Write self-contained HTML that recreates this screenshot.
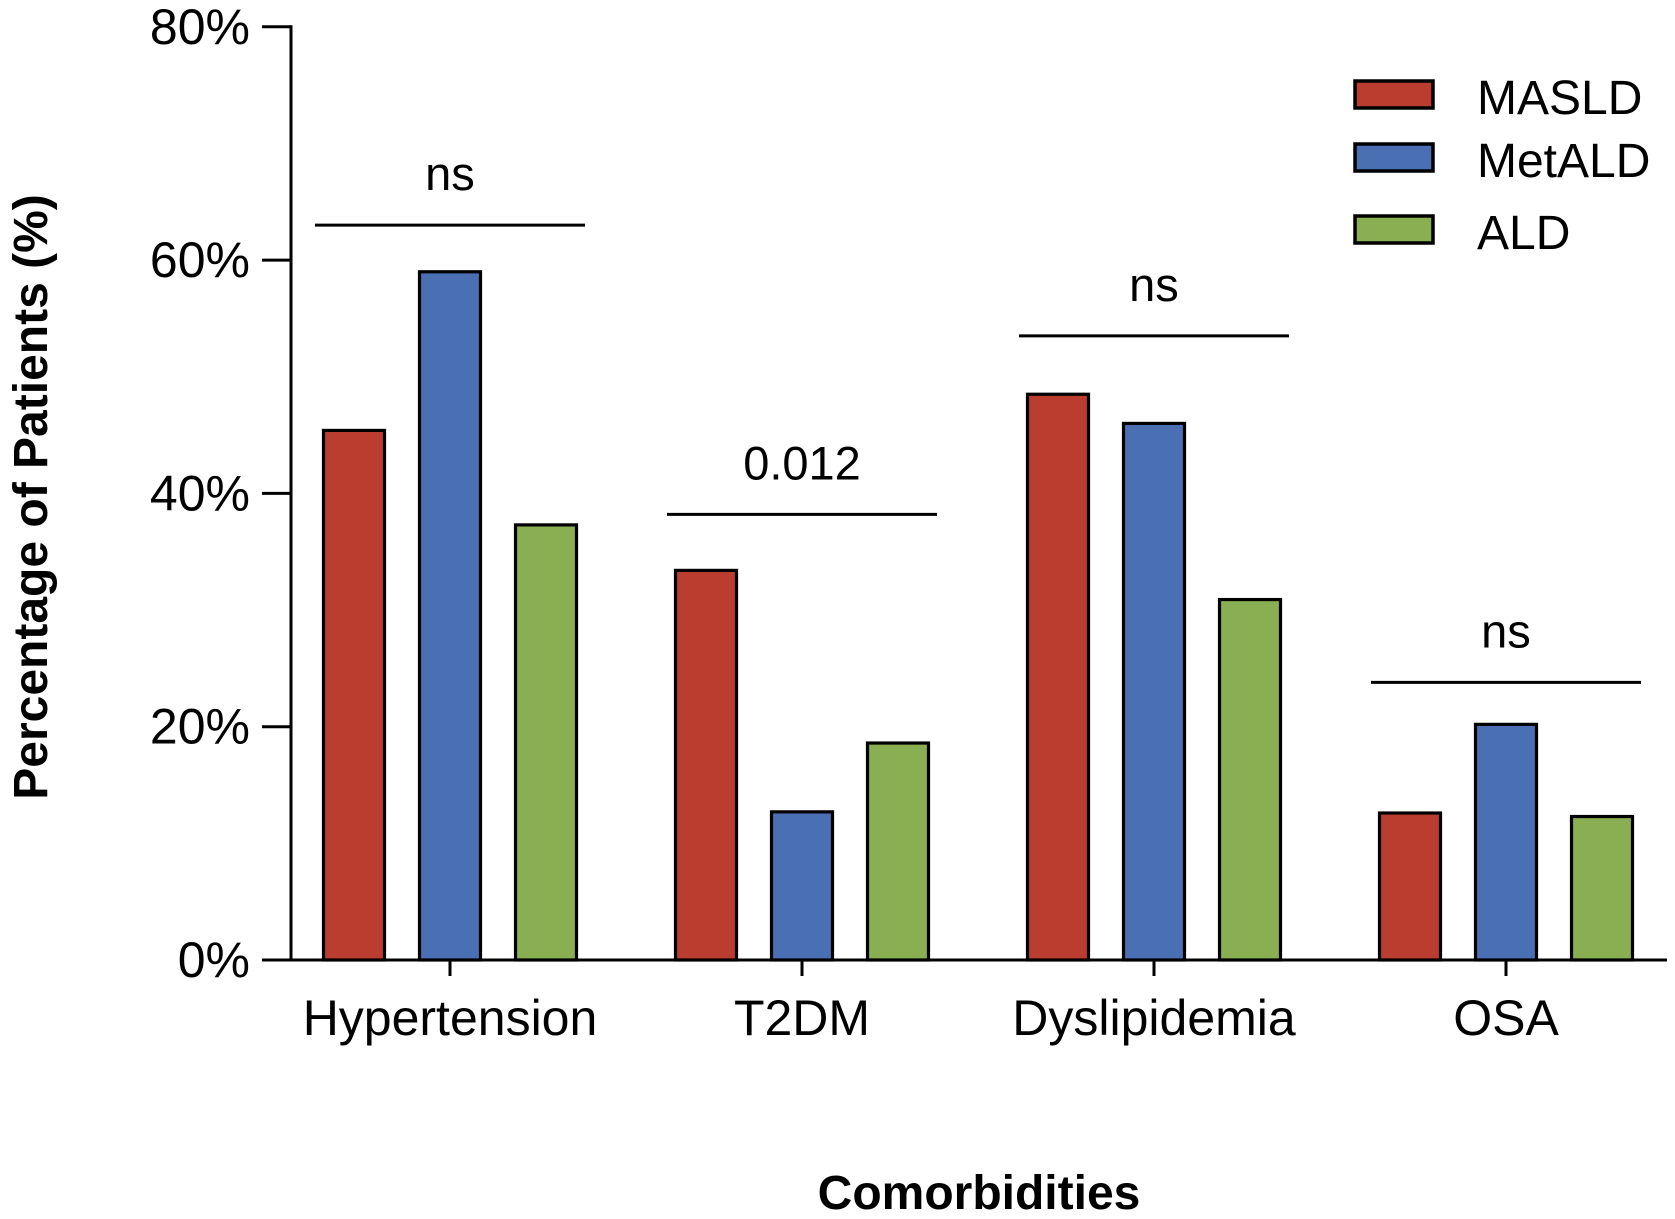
<!DOCTYPE html>
<html><head><meta charset="utf-8"><style>
html,body{margin:0;padding:0;background:#fff;}
svg{display:block;font-family:"Liberation Sans",Arial,sans-serif;}
</style></head><body>
<svg id="chart" width="1675" height="1219" viewBox="0 0 1675 1219">
<g id="axes"></g><g id="bars"></g><g id="sig"></g>
<g>
 <g><rect x="1355" y="81" width="78" height="27" fill="#bb3d2f" stroke="#000" stroke-width="3.5"/><text x="1477" y="114" font-size="48">MASLD</text></g>
 <g><rect x="1355" y="144" width="78" height="27" fill="#4a6fb3" stroke="#000" stroke-width="3.5"/><text x="1477" y="177" font-size="48">MetALD</text></g>
 <g><rect x="1355" y="216" width="78" height="27" fill="#8aae52" stroke="#000" stroke-width="3.5"/><text x="1477" y="249" font-size="48">ALD</text></g>
</g>
<text transform="translate(47,497) rotate(-90)" text-anchor="middle" font-size="48" font-weight="bold">Percentage of Patients (%)</text>
<text x="979" y="1209" text-anchor="middle" font-size="48" font-weight="bold">Comorbidities</text>
</svg>
<script>
const categories = ["Hypertension","T2DM","Dyslipidemia","OSA"];
const masld = [45.4, 33.4, 48.5, 12.6];
const metald = [59.0, 12.7, 46.0, 20.2];
const ald = [37.3, 18.6, 30.9, 12.3];
const sigLabels = ["ns","0.012","ns","ns"];
const sigLevels = [63, 38.2, 53.5, 23.8];
const yTicks = [0,20,40,60,80];
const yTickLabels = ["0%","20%","40%","60%","80%"];

const NS="http://www.w3.org/2000/svg";
const y0=960, yPer=233.3/20;
function yScale(v){return y0 - v*yPer;}
function xCenter(i){return 450 + i*352;}
function mk(tag,attrs,parent){const e=document.createElementNS(NS,tag);for(const k in attrs)e.setAttribute(k,attrs[k]);parent.appendChild(e);return e;}
const axes=document.getElementById('axes'), bars=document.getElementById('bars'), sig=document.getElementById('sig');
let l=mk('line',{x1:291,y1:yScale(80)-1.5,x2:291,y2:y0+1.5,stroke:'#000','stroke-width':3},axes);


l=mk('line',{x1:289.5,y1:y0,x2:1667,y2:y0,stroke:'#000','stroke-width':3},axes);


yTicks.forEach((t,i)=>{
 const y=yScale(t);
 const tk=mk('line',{x1:262,y1:y,x2:291,y2:y,stroke:'#000','stroke-width':3},axes);
 
 
 const tx=mk('text',{x:250,y:y+17,'text-anchor':'end','font-size':50},axes);
 tx.textContent=yTickLabels[i];
 
 
});
const series=[[masld,'#bb3d2f','masld'],[metald,'#4a6fb3','metald'],[ald,'#8aae52','ald']];
categories.forEach((c,i)=>{
 const cx=xCenter(i);
 const tk=mk('line',{x1:cx,y1:y0,x2:cx,y2:y0+16,stroke:'#000','stroke-width':3},axes);
 
 
 const tx=mk('text',{x:cx,y:y0+75,'text-anchor':'middle','font-size':50},axes);
 tx.textContent=c;
 
 
 series.forEach((s,j)=>{
  const v=s[0][i], x=cx+(j-1)*96-30.5;
  const r=mk('rect',{x:x,y:yScale(v),width:61,height:y0-yScale(v),fill:s[1],stroke:'#000','stroke-width':3.2},bars);
  
  
 });
 const sy=yScale(sigLevels[i]);
 const sl=mk('line',{x1:cx-135,y1:sy,x2:cx+135,y2:sy,stroke:'#000','stroke-width':3},sig);
 
 
 const st=mk('text',{x:cx,y:sy-35,'text-anchor':'middle','font-size':47},sig);
 st.textContent=sigLabels[i];
 
 
});
</script>
</body></html>
